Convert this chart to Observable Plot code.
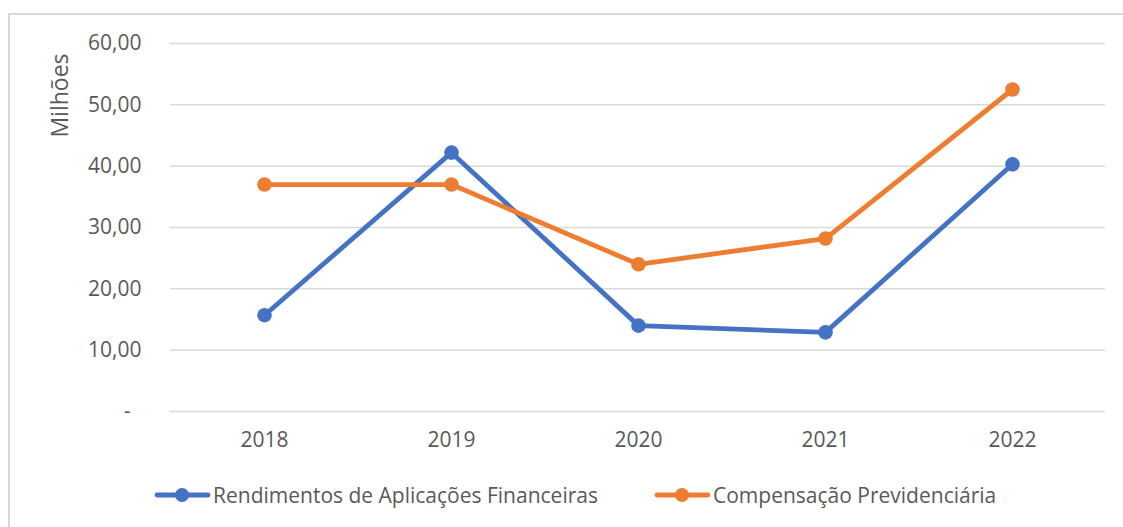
<!DOCTYPE html>
<html>
<head>
<meta charset="utf-8">
<script src="https://cdn.jsdelivr.net/npm/d3@7"></script>
<script src="https://cdn.jsdelivr.net/npm/@observablehq/plot@0.6"></script>
<style>
  html, body { margin: 0; padding: 0; background: #fff; overflow: hidden; }
  body { width: 1123px; height: 527px; position: relative; font-family: "Open Sans", sans-serif; }
  #frame { position: absolute; left: 8px; top: 13px; width: 1200px; height: 600px; border: 2px solid #d9d9d9; box-sizing: border-box; }
  #chart { position: absolute; left: 0; top: 0; }
  #legend { position: absolute; left: 0; top: 480px; width: 1123px; height: 30px; }
  .item { position: absolute; top: 0; height: 30px; display: flex; align-items: center; font-size: 21px; color: #595959; white-space: nowrap; }
  .item svg { margin-right: 2px; }
</style>
</head>
<body>
<div id="frame"></div>
<div id="chart"></div>
<div id="legend"></div>
<script>
const years = ["2018", "2019", "2020", "2021", "2022"];
const seriesNames = ["Rendimentos de Aplicações Financeiras", "Compensação Previdenciária"];
const rendimentos = [15.7, 42.2, 14.0, 12.9, 40.3];
const compensacao = [37.0, 37.0, 24.0, 28.2, 52.5];
const seriesColors = ["#4472C4", "#ED7D31"];
const yTicks = [0, 10, 20, 30, 40, 50, 60];
const yLabel = "Milhões";

const data = [];
years.forEach((y, i) => data.push({year: y, value: rendimentos[i], series: seriesNames[0]}));
years.forEach((y, i) => data.push({year: y, value: compensacao[i], series: seriesNames[1]}));

const fmt = d => d === 0 ? "-\u00a0\u00a0" : d.toFixed(2).replace(".", ",");

const chart = Plot.plot({
  width: 1123,
  height: 460,
  marginLeft: 170,
  marginRight: 18,
  marginTop: 43,
  marginBottom: 49,
  style: { fontFamily: "Open Sans, sans-serif", fontSize: "21px", color: "#595959", background: "transparent" },
  x: { type: "point", domain: years, padding: 0.5 },
  y: { domain: [0, 60] },
  color: { domain: seriesNames, range: seriesColors },
  marks: [
    Plot.gridY(yTicks, { stroke: "#d9d9d9", strokeOpacity: 1, strokeWidth: 1.5 }),
    Plot.axisY(yTicks, { tickSize: 0, tickPadding: 29, tickFormat: fmt, label: null, fill: "#595959", fontSize: 21 }),
    Plot.axisX({ tickSize: 0, tickPadding: 21, label: null, fill: "#595959", fontSize: 21 }),
    Plot.text([yLabel], { frameAnchor: "top-left", dx: -119, dy: 52, rotate: -90, fill: "#595959", fontSize: 23, textAnchor: "middle" }),
    Plot.line(data, { x: "year", y: "value", stroke: "series", strokeWidth: 4.8, strokeLinejoin: "round", strokeLinecap: "round" }),
    Plot.dot(data, { x: "year", y: "value", fill: "series", r: 7.3 })
  ]
});
document.getElementById("chart").appendChild(chart);

const legend = document.getElementById("legend");
const lefts = [154, 654];
seriesNames.forEach((name, i) => {
  const item = document.createElement("div");
  item.className = "item";
  item.style.left = lefts[i] + "px";
  item.innerHTML = `<svg width="57" height="20"><line x1="3" y1="10" x2="54" y2="10" stroke="${seriesColors[i]}" stroke-width="4.8" stroke-linecap="round"/><circle cx="28" cy="10" r="7" fill="${seriesColors[i]}"/></svg><span>${name}</span>`;
  legend.appendChild(item);
});
</script>
</body>
</html>
